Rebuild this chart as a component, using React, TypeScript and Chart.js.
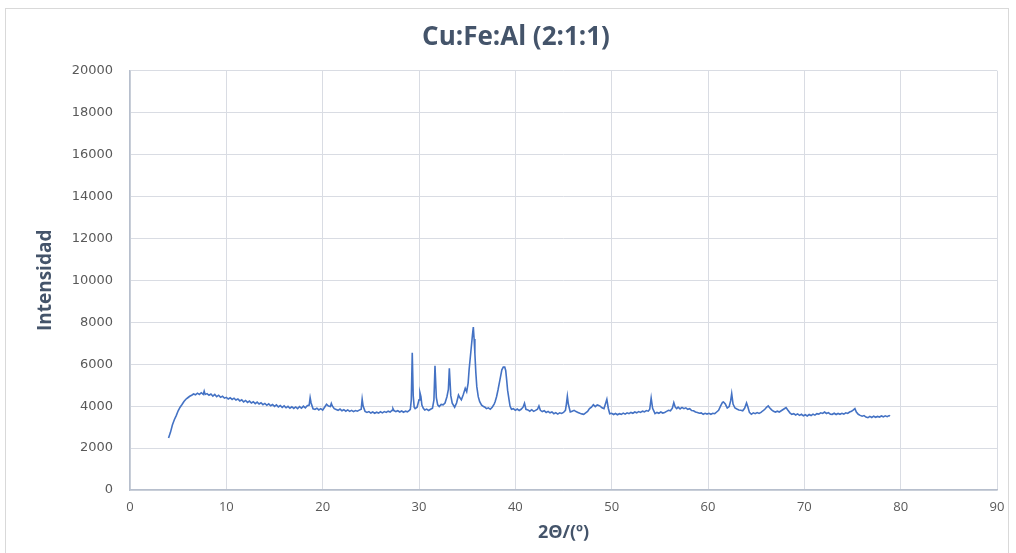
import React, { useEffect, useRef } from "react";
import { Chart, registerables } from "chart.js";

Chart.register(...registerables);

const chartTitle = "Cu:Fe:Al (2:1:1)";
const xAxisTitle = "2Θ/(º)";
const yAxisTitle = "Intensidad";

const twoTheta: number[] = [
  4.0, 4.2, 4.4, 4.6, 4.8, 5.0, 5.2, 5.4, 5.6, 5.8,
  6.0, 6.2, 6.4, 6.6, 6.8, 7.0, 7.2, 7.4, 7.6, 7.7,
  7.8, 8.0, 8.2, 8.4, 8.6, 8.8, 9.0, 9.2, 9.4, 9.6,
  9.8, 10.0, 10.2, 10.4, 10.6, 10.8, 11.0, 11.2, 11.4, 11.6,
  11.8, 12.0, 12.2, 12.4, 12.6, 12.8, 13.0, 13.2, 13.4, 13.6,
  13.8, 14.0, 14.2, 14.4, 14.6, 14.8, 15.0, 15.2, 15.4, 15.6,
  15.8, 16.0, 16.2, 16.4, 16.6, 16.8, 17.0, 17.2, 17.4, 17.6,
  17.8, 18.0, 18.2, 18.4, 18.6, 18.7, 18.8, 19.0, 19.2, 19.4,
  19.6, 19.8, 20.0, 20.2, 20.4, 20.6, 20.8, 20.9, 21.0, 21.2,
  21.4, 21.6, 21.8, 22.0, 22.2, 22.4, 22.6, 22.8, 23.0, 23.2,
  23.4, 23.6, 23.8, 24.0, 24.1, 24.2, 24.4, 24.6, 24.8, 25.0,
  25.2, 25.4, 25.6, 25.8, 26.0, 26.2, 26.4, 26.6, 26.8, 27.0,
  27.2, 27.3, 27.4, 27.6, 27.8, 28.0, 28.2, 28.4, 28.6, 28.8,
  29.0, 29.1, 29.2, 29.3, 29.4, 29.5, 29.6, 29.8, 30.0, 30.1,
  30.2, 30.3, 30.45, 30.6, 30.8, 31.0, 31.2, 31.4, 31.55, 31.66,
  31.8, 31.94, 32.1, 32.3, 32.5, 32.7, 32.9, 33.05, 33.15, 33.3,
  33.45, 33.7, 33.9, 34.1, 34.25, 34.4, 34.6, 34.8, 34.95, 35.1,
  35.2, 35.4, 35.55, 35.64, 35.72, 35.8, 35.9, 36.0, 36.15, 36.3,
  36.5, 36.7, 36.85, 37.0, 37.2, 37.4, 37.6, 37.8, 37.9, 38.05,
  38.2, 38.4, 38.6, 38.75, 38.9, 39.0, 39.1, 39.2, 39.35, 39.45,
  39.6, 39.8, 40.0, 40.2, 40.4, 40.6, 40.8, 40.95, 41.1, 41.3,
  41.5, 41.7, 41.9, 42.1, 42.3, 42.45, 42.6, 42.8, 43.0, 43.2,
  43.4, 43.6, 43.8, 44.0, 44.2, 44.4, 44.6, 44.8, 45.0, 45.2,
  45.3, 45.4, 45.5, 45.7, 45.9, 46.1, 46.3, 46.5, 46.7, 46.9,
  47.1, 47.3, 47.5, 47.7, 47.9, 48.1, 48.3, 48.5, 48.6, 48.8,
  49.0, 49.2, 49.35, 49.5, 49.65, 49.8, 50.0, 50.2, 50.4, 50.6,
  50.8, 51.0, 51.2, 51.4, 51.6, 51.8, 52.0, 52.2, 52.4, 52.6,
  52.8, 53.0, 53.2, 53.4, 53.6, 53.8, 53.95, 54.1, 54.25, 54.5,
  54.7, 54.9, 55.1, 55.3, 55.5, 55.7, 55.9, 56.1, 56.3, 56.45,
  56.6, 56.75, 56.9, 57.1, 57.3, 57.5, 57.7, 57.9, 58.1, 58.3,
  58.5, 58.7, 58.9, 59.1, 59.3, 59.5, 59.7, 59.9, 60.1, 60.3,
  60.5, 60.7, 60.9, 61.1, 61.3, 61.5, 61.6, 61.8, 62.0, 62.2,
  62.35, 62.46, 62.6, 62.8, 63.0, 63.2, 63.4, 63.6, 63.8, 64.0,
  64.15, 64.3, 64.5, 64.7, 64.9, 65.1, 65.3, 65.5, 65.7, 65.9,
  66.1, 66.25, 66.4, 66.6, 66.8, 67.0, 67.2, 67.4, 67.6, 67.8,
  68.0, 68.1, 68.3, 68.5, 68.7, 68.9, 69.1, 69.3, 69.5, 69.7,
  69.9, 70.1, 70.3, 70.5, 70.7, 70.9, 71.1, 71.3, 71.5, 71.7,
  71.9, 72.1, 72.3, 72.5, 72.7, 72.9, 73.1, 73.3, 73.5, 73.7,
  73.9, 74.1, 74.3, 74.5, 74.7, 74.9, 75.1, 75.25, 75.4, 75.6,
  75.8, 76.0, 76.2, 76.4, 76.6, 76.8, 77.0, 77.2, 77.4, 77.6,
  77.8, 78.0, 78.2, 78.4, 78.6, 78.8, 78.9,
];

const intensity: number[] = [
  2480, 2750, 3100, 3350, 3550, 3780, 3950, 4080, 4220, 4330,
  4400, 4470, 4520, 4580, 4540, 4620, 4560, 4640, 4560, 4720,
  4560, 4600, 4520, 4580, 4480, 4560, 4450, 4520, 4420, 4470,
  4380, 4420, 4340, 4400, 4320, 4380, 4290, 4340, 4250, 4300,
  4200, 4270, 4180, 4240, 4150, 4210, 4120, 4190, 4100, 4160,
  4070, 4130, 4040, 4110, 4020, 4080, 3990, 4060, 3960, 4030,
  3940, 4010, 3920, 3990, 3900, 3970, 3890, 3960, 3880, 3980,
  3900, 4000, 3920, 4020, 4050, 4400, 4150, 3870, 3840, 3900,
  3820, 3880, 3810, 3950, 4090, 4000, 3980, 4130, 4010, 3880,
  3840, 3800, 3860, 3780, 3830, 3760, 3820, 3750, 3800, 3740,
  3790, 3760, 3810, 3850, 4330, 4000, 3750, 3700, 3740, 3670,
  3720, 3660, 3710, 3670, 3730, 3680, 3740, 3700, 3760, 3720,
  3800, 3880, 3790, 3740, 3780, 3720, 3770, 3710, 3760, 3730,
  3800, 3850, 4300, 6550, 4500, 3950, 3880, 3950, 4300, 4640,
  4450, 4050, 3900, 3820, 3860, 3790, 3850, 3900, 4300, 5920,
  4400, 4060, 3980, 4080, 4060, 4150, 4450, 4800, 5810, 4500,
  4140, 3950, 4150, 4530, 4400, 4300, 4550, 4850, 4690, 5100,
  5730, 6680, 7400, 7770, 7200, 6520, 5600, 4930, 4450, 4210,
  4050, 3980, 3950, 3880, 3920, 3850, 3950, 4100, 4210, 4450,
  4770, 5250, 5730, 5860, 5860, 5700, 5250, 4750, 4300, 4000,
  3850, 3880, 3800, 3860, 3790, 3850, 3950, 4140, 3850, 3820,
  3760, 3830, 3750, 3800, 3850, 4010, 3800, 3740, 3780, 3700,
  3750, 3680, 3720, 3640, 3690, 3620, 3680, 3650, 3700, 3800,
  4100, 4470, 4100, 3720, 3760, 3800, 3740, 3700, 3660, 3630,
  3610, 3680, 3750, 3880, 3950, 4070, 3980, 4060, 4040, 4000,
  3920, 3880, 4100, 4330, 3900, 3640, 3660, 3600, 3650, 3590,
  3640, 3610, 3670, 3620, 3680, 3640, 3700, 3660, 3720, 3680,
  3740, 3700, 3760, 3730, 3790, 3760, 3850, 4390, 3900, 3640,
  3700, 3660, 3720, 3670, 3700, 3750, 3800, 3780, 3900, 4170,
  3950, 3880, 3950, 3870, 3940, 3880, 3920, 3850, 3880, 3790,
  3780, 3720, 3700, 3660, 3680, 3610, 3660, 3620, 3660, 3610,
  3660, 3640, 3720, 3800, 4000, 4180, 4200, 4100, 3910, 3980,
  4250, 4600, 4100, 3910, 3860, 3820, 3800, 3780, 3900, 4150,
  3950, 3700, 3610, 3680, 3640, 3690, 3650, 3700, 3780, 3850,
  3960, 4010, 3920, 3820, 3760, 3720, 3760, 3720, 3780, 3840,
  3900, 3930, 3800, 3680, 3610, 3640, 3580, 3630, 3560, 3610,
  3540, 3590, 3530, 3600, 3550, 3620, 3570, 3640, 3620, 3680,
  3650, 3720, 3650, 3690, 3620, 3610, 3660, 3600, 3650, 3610,
  3660, 3620, 3680, 3650, 3720, 3760, 3820, 3880, 3720, 3610,
  3560, 3520, 3550, 3480, 3450, 3510, 3460, 3520, 3470, 3510,
  3480, 3530, 3490, 3540, 3500, 3550, 3520,
];

const xTicksMin = 0;
const xTicksMax = 90;
const xTickStep = 10;
const yTicksMin = 0;
const yTicksMax = 20000;
const yTickStep = 2000;

export default function App() {
  const canvasRef = useRef<HTMLCanvasElement | null>(null);

  useEffect(() => {
    document.body.style.margin = "0";
    const canvas = canvasRef.current;
    if (!canvas) return;
    const points = twoTheta.map((x, i) => ({ x, y: intensity[i] }));
    const chart = new Chart(canvas, {
      type: "scatter",
      data: {
        datasets: [
          {
            data: points,
            showLine: true,
            borderColor: "#4472C4",
            borderWidth: 1.6,
            pointRadius: 0,
            pointHoverRadius: 0,
            fill: false,
            tension: 0,
          },
        ],
      },
      options: {
        animation: false,
        responsive: false,
        maintainAspectRatio: false,
        layout: { padding: { left: 35, right: 19, top: 0, bottom: 0 } },
        plugins: {
          legend: { display: false },
          tooltip: { enabled: false },
          title: {
            display: true,
            text: chartTitle,
            color: "#44546A",
            font: { family: "'Open Sans', sans-serif", size: 26, weight: "bold", lineHeight: 1.2 },
            padding: { top: 22, bottom: 17.5 },
          },
        },
        scales: {
          x: {
            type: "linear",
            min: xTicksMin,
            max: xTicksMax,
            afterFit: (s: any) => {
              s.height = 63;
            },
            ticks: {
              stepSize: xTickStep,
              color: "#595959",
              padding: 9,
              font: { family: "'Open Sans', sans-serif", size: 13 },
            },
            grid: { color: "#d9dce3", lineWidth: 1, drawTicks: false },
            border: { color: "#b7bfcd", width: 1.5 },
            title: {
              display: true,
              text: xAxisTitle,
              color: "#44546A",
              font: { family: "'Open Sans', sans-serif", size: 18, weight: "bold", lineHeight: 1.2 },
              padding: { top: 0, bottom: 9 },
            },
          },
          y: {
            type: "linear",
            min: yTicksMin,
            max: yTicksMax,
            afterFit: (s: any) => {
              s.width = 95;
            },
            ticks: {
              stepSize: yTickStep,
              color: "#595959",
              padding: 17,
              font: { family: "'DejaVu Sans', sans-serif", size: 13 },
              callback: (v: any) => String(v),
            },
            grid: { color: "#d9dce3", lineWidth: 1, drawTicks: false },
            border: { color: "#b7bfcd", width: 1.5 },
            title: {
              display: true,
              text: yAxisTitle,
              color: "#44546A",
              font: { family: "'Open Sans', sans-serif", size: 19, weight: "bold", lineHeight: 1.2 },
              padding: { top: -1, bottom: 0 },
            },
          },
        },
      },
    });
    return () => chart.destroy();
  }, []);

  return (
    <div style={{ position: "relative", width: 1016, height: 553, overflow: "hidden", background: "#ffffff" }}>
      <div
        style={{
          position: "absolute",
          left: 5,
          top: 8,
          width: 1004,
          height: 600,
          border: "1px solid #d9d9d9",
          boxSizing: "border-box",
        }}
      />
      <canvas ref={canvasRef} width={1016} height={553} style={{ position: "absolute", left: 0, top: 0 }} />
    </div>
  );
}
